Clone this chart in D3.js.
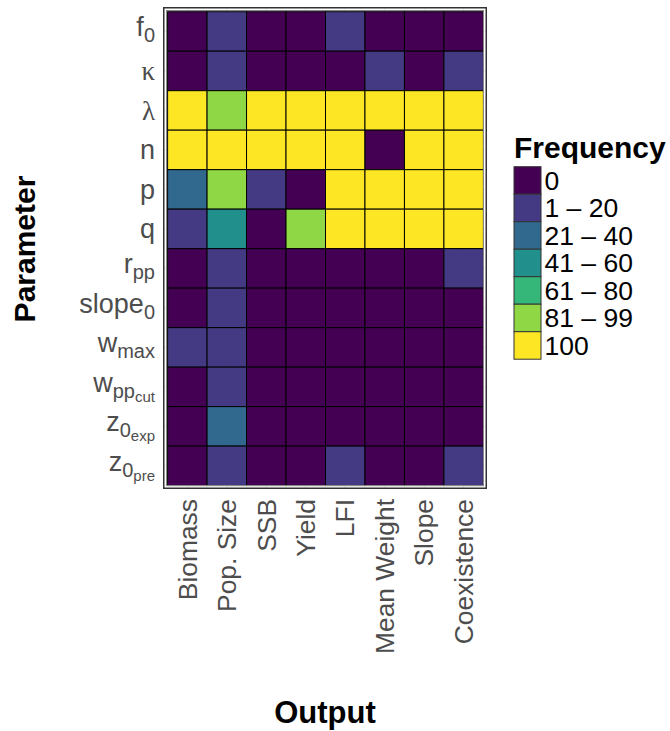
<!DOCTYPE html>
<html>
<head>
<meta charset="utf-8">
<script src="https://cdn.jsdelivr.net/npm/d3@7"></script>
<style>
  html, body { margin: 0; padding: 0; background: #fff; }
  svg { display: block; font-family: "Liberation Sans", Arial, Helvetica, sans-serif; }
</style>
</head>
<body>
<svg id="chart" width="670" height="731"></svg>
<script>
// ---------- data ----------
const outputs = ["Biomass", "Pop. Size", "SSB", "Yield", "LFI", "Mean Weight", "Slope", "Coexistence"];
const paramBase   = ["f", "κ", "λ", "n", "p", "q", "r", "slope", "w", "w", "z", "z"];
const paramSub    = ["0", "", "", "", "", "", "pp", "0", "max", "pp", "0", "0"];
const paramSubSub = ["", "", "", "", "", "", "", "", "", "cut", "exp", "pre"];
const freqLevels = ["0", "1 – 20", "21 – 40", "41 – 60", "61 – 80", "81 – 99", "100"];
// frequency bin per parameter (rows) and output (columns)
const row_f0     = ["0", "1 – 20", "0", "0", "1 – 20", "0", "0", "0"];
const row_kappa  = ["0", "1 – 20", "0", "0", "0", "1 – 20", "0", "1 – 20"];
const row_lambda = ["100", "81 – 99", "100", "100", "100", "100", "100", "100"];
const row_n      = ["100", "100", "100", "100", "100", "0", "100", "100"];
const row_p      = ["21 – 40", "81 – 99", "1 – 20", "0", "100", "100", "100", "100"];
const row_q      = ["1 – 20", "41 – 60", "0", "81 – 99", "100", "100", "100", "100"];
const row_rpp    = ["0", "1 – 20", "0", "0", "0", "0", "0", "1 – 20"];
const row_slope0 = ["0", "1 – 20", "0", "0", "0", "0", "0", "0"];
const row_wmax   = ["1 – 20", "1 – 20", "0", "0", "0", "0", "0", "0"];
const row_wppcut = ["0", "1 – 20", "0", "0", "0", "0", "0", "0"];
const row_z0exp  = ["0", "21 – 40", "0", "0", "0", "0", "0", "0"];
const row_z0pre  = ["0", "1 – 20", "0", "0", "1 – 20", "0", "0", "1 – 20"];
const rowsData = [row_f0, row_kappa, row_lambda, row_n, row_p, row_q, row_rpp, row_slope0, row_wmax, row_wppcut, row_z0exp, row_z0pre];

// ---------- styles ----------
const palette = ["#440154", "#443A83", "#31688E", "#21908C", "#35B779", "#8FD744", "#FDE725"];
const tickColor = "#4d4d4d";

const svg = d3.select("#chart");

const cells = [];
rowsData.forEach((r, i) => r.forEach((v, j) => cells.push({ row: i, col: j, bin: v })));

const panel = { x0: 163, x1: 487, y0: 7, y1: 489 };
const tileX = [167.6, 483.4], tileY = [11.7, 485.6];

const x = d3.scaleBand().domain(d3.range(outputs.length)).range(tileX).padding(0);
const y = d3.scaleBand().domain(d3.range(paramBase.length)).range(tileY).padding(0);
const color = d3.scaleOrdinal().domain(freqLevels).range(palette);

// panel grid
const g = svg.append("g");
g.selectAll("line.vg").data(d3.range(outputs.length)).join("line")
  .attr("x1", d => x(d) + x.bandwidth() / 2).attr("x2", d => x(d) + x.bandwidth() / 2)
  .attr("y1", panel.y0).attr("y2", panel.y1)
  .attr("stroke", "#ebebeb").attr("stroke-width", 1);
g.selectAll("line.hg").data(d3.range(paramBase.length)).join("line")
  .attr("y1", d => y(d) + y.bandwidth() / 2).attr("y2", d => y(d) + y.bandwidth() / 2)
  .attr("x1", panel.x0).attr("x2", panel.x1)
  .attr("stroke", "#ebebeb").attr("stroke-width", 1);

// tiles
g.selectAll("rect.tile").data(cells).join("rect")
  .attr("x", d => x(d.col)).attr("y", d => y(d.row))
  .attr("width", x.bandwidth()).attr("height", y.bandwidth())
  .attr("fill", d => color(d.bin))
  .attr("stroke", "#000").attr("stroke-width", 1);

// panel borders
svg.append("rect")
  .attr("x", panel.x0 + 0.75).attr("y", panel.y0 + 0.75)
  .attr("width", panel.x1 - panel.x0 - 1.5).attr("height", panel.y1 - panel.y0 - 1.5)
  .attr("fill", "none").attr("stroke", "#333333").attr("stroke-width", 1.5);
svg.append("rect")
  .attr("x", panel.x0 + 3.5).attr("y", panel.y0 + 3.5)
  .attr("width", panel.x1 - panel.x0 - 7).attr("height", panel.y1 - panel.y0 - 7)
  .attr("fill", "none").attr("stroke", "#888888").attr("stroke-width", 1);

// y tick labels
const yl = svg.append("g");
paramBase.forEach((b, i) => {
  const cy = y(i) + y.bandwidth() / 2;
  const hasSub = paramSub[i] !== "";
  const t = yl.append("text")
    .attr("x", 155)
    .attr("y", cy + (hasSub ? 5 : 9.5))
    .attr("text-anchor", "end")
    .attr("fill", tickColor)
    .style("font-size", "27px");
  const greek = (b === "κ" || b === "λ");
  t.append("tspan").text(b).style("font-family", greek ? "'Liberation Serif', serif" : null);
  if (hasSub) {
    t.append("tspan").text(paramSub[i]).attr("dy", 6).style("font-size", "20px");
    if (paramSubSub[i] !== "") {
      t.append("tspan").text(paramSubSub[i]).attr("dy", 4).style("font-size", "15px");
    }
  }
});

// x tick labels
svg.append("g").selectAll("text").data(outputs).join("text")
  .attr("transform", (d, i) => `translate(${x(i) + x.bandwidth() / 2},499) rotate(-90)`)
  .attr("dy", "0.35em")
  .attr("text-anchor", "end")
  .attr("fill", tickColor)
  .style("font-size", "26.4px")
  .text(d => d);

// axis titles
svg.append("text")
  .attr("transform", "translate(35,249) rotate(-90)")
  .attr("text-anchor", "middle")
  .style("font-size", "30px").style("font-weight", "bold")
  .text("Parameter");
svg.append("text")
  .attr("x", 325).attr("y", 723)
  .attr("text-anchor", "middle")
  .style("font-size", "31px").style("font-weight", "bold")
  .text("Output");

// legend
const leg = svg.append("g");
leg.append("text").attr("x", 514).attr("y", 158)
  .style("font-size", "30px").style("font-weight", "bold")
  .text("Frequency");
const keyH = 27.5, keyY0 = 166.7;
leg.selectAll("rect").data(freqLevels).join("rect")
  .attr("x", 514).attr("y", (d, i) => keyY0 + i * keyH)
  .attr("width", 27).attr("height", keyH)
  .attr("fill", d => color(d))
  .attr("stroke", "#333").attr("stroke-width", 1);
leg.selectAll("text.lab").data(freqLevels).join("text")
  .attr("class", "lab")
  .attr("x", 544.5).attr("y", (d, i) => keyY0 + i * keyH + keyH / 2)
  .attr("dy", "0.36em")
  .style("font-size", "26.5px")
  .text(d => d);
</script>
</body>
</html>
